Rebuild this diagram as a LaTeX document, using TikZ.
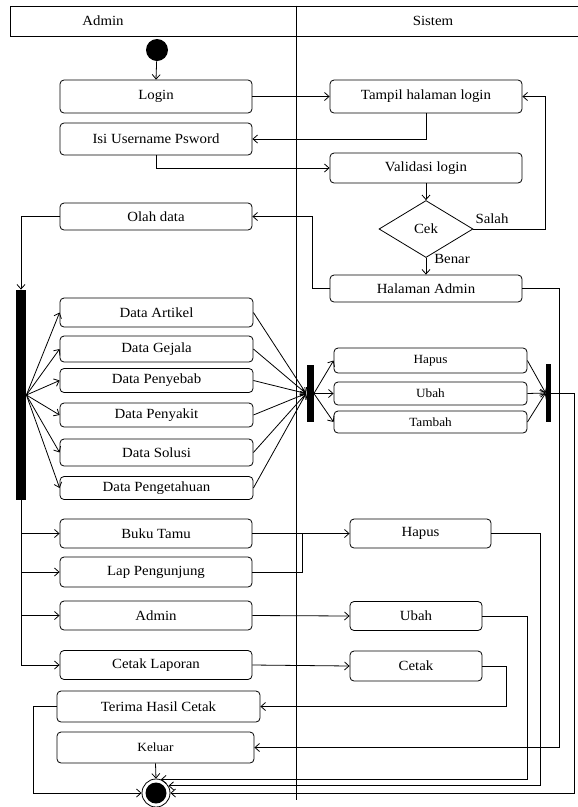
\documentclass[tikz,border=0pt]{standalone}
\usepackage{fontspec}
\setmainfont{Liberation Serif}[FakeStretch=1.06]
\usetikzlibrary{shapes.geometric,arrows.meta,calc}
\begin{document}
\begin{tikzpicture}[x=1pt,y=-1pt,line width=0.8pt,
  box/.style={draw, rounded corners=4pt, inner sep=0pt, font=\fontsize{14}{16}\selectfont},
  sbox/.style={box, font=\fontsize{12.5}{14}\selectfont},
  bar/.style={fill=black, inner sep=0pt},
  lbl/.style={inner sep=0pt, font=\fontsize{14}{16}\selectfont},
  arr/.style={-{Straight Barb[length=4.5pt,width=8pt]}}]
\useasboundingbox (0,0) rectangle (578,807);
% swimlane header
\node[draw, minimum width=568, minimum height=30, inner sep=0pt, anchor=north west] (head) at (10,5.5) {};
\coordinate (divtop) at (296,5.5);
\coordinate (divbot) at (296,800);
\draw (divtop) -- (divbot);
\node[lbl] (hadmin) at (103,21) {Admin};
\node[lbl] (hsistem) at (433,21) {Sistem};
% start / end
\node[circle, fill=black, minimum size=22, inner sep=0pt] (start) at (157,50) {};
\node[circle, draw, minimum size=28, inner sep=0pt] (end) at (156,793) {};
\node[circle, fill=black, minimum size=21, inner sep=0pt] (endin) at (156,793) {};
% top flow
\node[box, minimum width=192, minimum height=33] (login) at (156,96.5) {Login};
\node[box, minimum width=192, minimum height=32] (isi) at (156,139) {Isi Username Psword};
\node[box, minimum width=192, minimum height=33] (tampil) at (426,96.5) {Tampil halaman login};
\node[box, minimum width=192, minimum height=30] (valid) at (426,168) {Validasi login};
\node[draw, diamond, aspect=1.65, minimum width=94, minimum height=57, inner sep=0pt, font=\fontsize{14}{16}\selectfont] (cek) at (426,229) {Cek};
\node[lbl] (salah) at (492,219) {Salah};
\node[lbl] (benar) at (452,259) {Benar};
\node[box, minimum width=192, minimum height=27] (halaman) at (426,288.5) {Halaman Admin};
\node[box, minimum width=192, minimum height=27] (olah) at (156,216.5) {Olah data};
% fork 1
\node[bar, minimum width=10, minimum height=210] (bar1) at (21,395) {};
\node[box, minimum width=193, minimum height=29] (d1) at (156.5,312.5) {Data Artikel};
\node[box, minimum width=193, minimum height=26] (d2) at (156.5,349) {Data Gejala};
\node[box, minimum width=193, minimum height=24] (d3) at (156.5,380.5) {Data Penyebab};
\node[box, minimum width=193, minimum height=24] (d4) at (156.5,415) {Data Penyakit};
\node[box, minimum width=193, minimum height=27] (d5) at (156.5,452.5) {Data Solusi};
\node[box, minimum width=193, minimum height=23] (d6) at (156.5,488) {Data Pengetahuan};
% fork 2
\node[bar, minimum width=7, minimum height=57] (bar2) at (310,393.5) {};
\node[sbox, minimum width=193, minimum height=25] (h1) at (430.5,360.5) {Hapus};
\node[sbox, minimum width=193, minimum height=23] (u1) at (430.5,393.5) {Ubah};
\node[sbox, minimum width=193, minimum height=22] (t1) at (430.5,422) {Tambah};
\node[bar, minimum width=5, minimum height=58] (bar3) at (548.5,393) {};
% lower part
\node[box, minimum width=192, minimum height=29] (buku) at (156,533.5) {Buku Tamu};
\node[box, minimum width=192, minimum height=30] (lap) at (156,572) {Lap Pengunjung};
\node[box, minimum width=192, minimum height=29] (adm) at (156,615.5) {Admin};
\node[box, minimum width=192, minimum height=29] (cetaklap) at (156,665) {Cetak Laporan};
\node[box, minimum width=141, minimum height=29] (h2) at (420.5,533.5) {Hapus};
\node[box, minimum width=132, minimum height=29] (u2) at (416,616) {Ubah};
\node[box, minimum width=132, minimum height=30] (c2) at (416,666) {Cetak};
\node[box, minimum width=203, minimum height=31] (terima) at (158.5,706.5) {Terima Hasil Cetak};
\node[sbox, minimum width=197, minimum height=31] (keluar) at (155.5,747.5) {Keluar};
% connectors: top
\draw[arr] (start) -- (login.north);
\draw[arr] (login.east) -- (tampil.west);
\draw[arr] (tampil.south) |- (isi.east);
\draw[arr] (isi.south) |- (valid.west);
\draw[arr] (valid.south) -- (cek.north);
\draw[arr] (cek.east) -- ++(72,0) |- (tampil.east);
\draw[arr] (cek.south) -- (halaman.north);
\draw[arr] (halaman.west) -- ++(-17,0) |- (olah.east);
\draw[arr] (olah.west) -| (bar1.north);
% fork 1
\foreach \n in {d1,d2,d3,d4,d5,d6}{
  \draw[arr] (bar1.east) -- (\n.west);
  \draw[arr] (\n.east) -- (bar2.west);
}
\foreach \n in {h1,u1,t1}{
  \draw[arr] (bar2.east) -- (\n.west);
  \draw[arr] (\n.east) -- (bar3.west);
}
% lower left rail
\draw[arr] (bar1.south) |- (cetaklap.west);
\draw[arr] (bar1.south |- buku.west) -- (buku.west);
\draw[arr] (bar1.south |- lap.west) -- (lap.west);
\draw[arr] (bar1.south |- adm.west) -- (adm.west);
\draw[arr] (buku.east) -- (h2.west);
\draw (lap.east) -| ($(buku.east)+(50,0)$);
\draw[arr] (adm.east) -- (u2.west);
\draw[arr] (cetaklap.east) -- (c2.west);
\draw[arr] (c2.east) -- ++(24,0) |- (terima.east);
% to end
\draw[arr] (terima.west) -- ++(-23,0) |- (end.west);
\draw[arr] (keluar.south) -- (end.north);
\draw[arr] (halaman.east) -- ++(37,0) |- (keluar.east);
\draw[arr] (u2.east) -- ++(45,0) |- (end.70);
\draw[arr] (h2.east) -- ++(49,0) |- (end.30);
\draw[arr] (bar3.east) -- ++(23,0) |- (end.east);
\end{tikzpicture}
\end{document}
